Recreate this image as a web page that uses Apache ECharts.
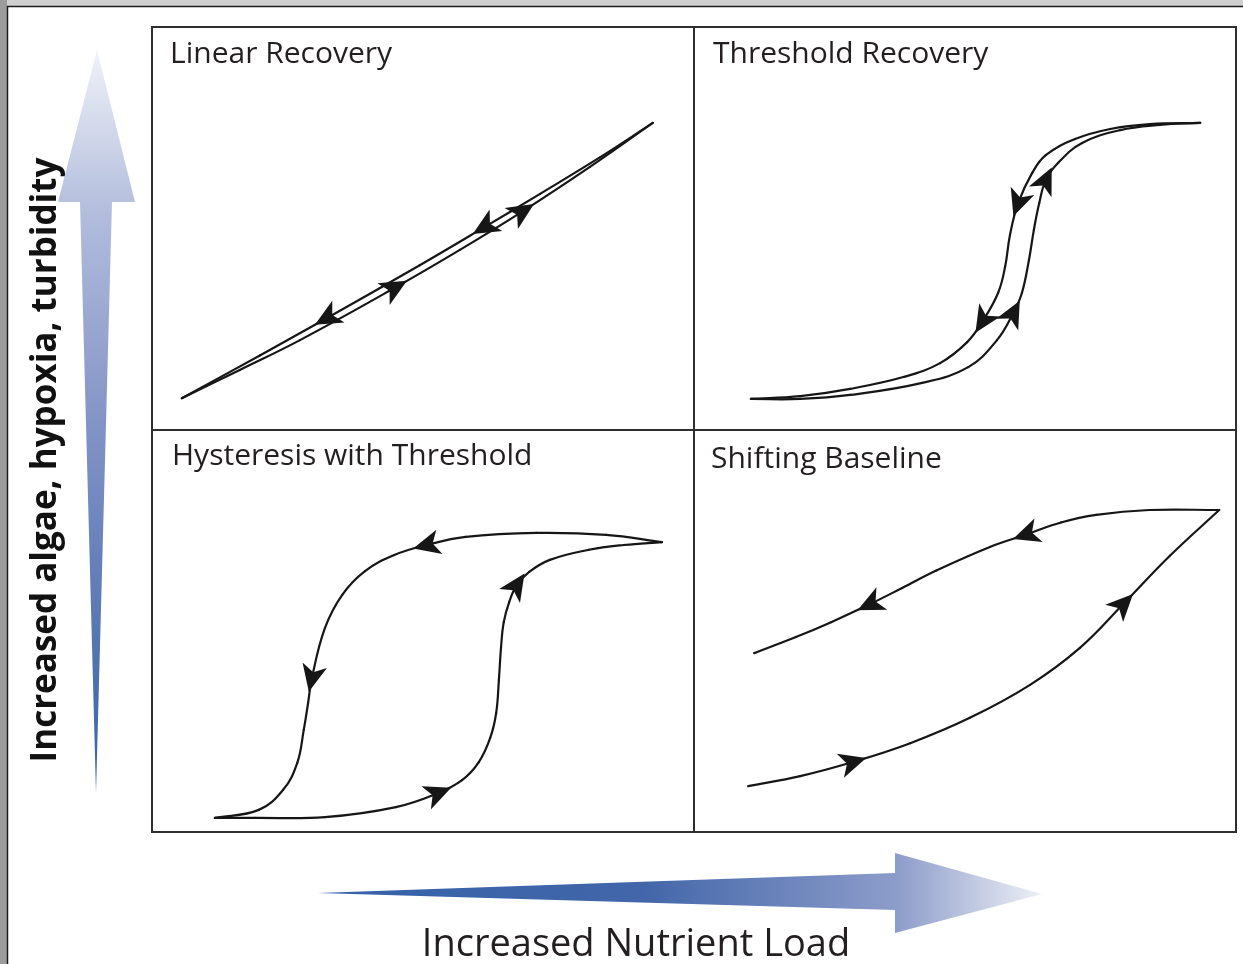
<!DOCTYPE html>
<html>
<head>
<meta charset="utf-8">
<title>Nutrient load recovery trajectories</title>
<script src="https://cdn.jsdelivr.net/npm/echarts@6/dist/echarts.min.js"></script>
<style>
  html, body { margin: 0; padding: 0; background: #fff; }
  #main { width: 1243px; height: 964px; }
</style>
</head>
<body>
<div id="main"></div>
<script>
var panelTitles = ['Linear Recovery', 'Threshold Recovery', 'Hysteresis with Threshold', 'Shifting Baseline'];
var yLabel = 'Increased algae, hypoxia, turbidity';
var xLabel = 'Increased Nutrient Load';

// curves: [nutrient load, response], both 0-100, listed in the direction of travel
// arrow lists are the indexes of the points that carry an arrowhead
var linearUp = [[5.5, 7.9], [16.2, 14.9], [27.3, 22.3], [44.8, 35.3], [56.8, 44.7], [68.3, 54.2], [80.8, 65.3], [92.4, 76.2]];
var linearUpArrows = [3, 5];
var linearDown = [[92.4, 76.2], [82.7, 67.7], [71.6, 58.6], [61.4, 50.4], [49.4, 40.9], [32.3, 27.8], [19.9, 18.5], [5.5, 7.9]];
var linearDownArrows = [3, 5];

var thresholdUp = [[10.5, 7.7], [19.6, 7.7], [28.8, 8.7], [42.1, 11.7], [50.6, 15.6], [55.9, 22.3], [58.9, 29.0], [60.5, 34.0],
  [61.8, 42.2], [62.7, 49.6], [63.7, 56.3], [64.9, 62.0], [67.2, 66.3], [71.6, 71.2], [78.6, 74.4], [86.0, 75.7], [93.4, 76.2]];
var thresholdUpArrows = [6, 11];
var thresholdDown = [[93.4, 76.2], [84.1, 75.9], [76.8, 74.7], [70.3, 72.2], [64.9, 68.2], [62.4, 63.8], [59.8, 56.3], [58.3, 48.4],
  [57.4, 40.5], [56.1, 34.0], [53.3, 27.1], [50.4, 21.8], [45.4, 16.6], [38.8, 13.2], [28.8, 10.2], [19.6, 8.4], [10.5, 7.7]];
var thresholdDownArrows = [6, 10];

var hysteresisUp = [[11.6, 3.5], [19.0, 3.5], [31.9, 3.7], [45.0, 6.2], [52.8, 9.7], [57.2, 12.9], [60.3, 17.4], [62.4, 23.4],
  [63.5, 29.6], [64.0, 37.8], [64.4, 46.0], [64.9, 52.2], [65.9, 57.2], [67.3, 61.4], [69.6, 64.7], [73.4, 67.7], [80.6, 70.2],
  [87.1, 71.4], [94.1, 72.1]];
var hysteresisUpArrows = [4, 13];
var hysteresisDown = [[94.1, 72.1], [83.8, 73.9], [70.9, 74.4], [57.9, 73.4], [50.7, 71.4], [44.7, 68.9], [39.3, 64.9], [35.1, 59.0],
  [31.9, 50.7], [29.5, 38.3], [28.8, 32.1], [28.0, 25.4], [26.8, 17.2], [24.2, 10.5], [19.7, 5.5], [11.6, 3.5]];
var hysteresisDownArrows = [4, 9];

var baselineUp = [[10.0, 11.4], [19.6, 13.9], [29.3, 17.4], [39.9, 22.1], [50.9, 28.4], [62.0, 36.6], [71.2, 45.8], [79.2, 56.7],
  [87.8, 68.7], [96.9, 80.1]];
var baselineUpArrows = [2, 7];
var baselineDown = [[96.9, 80.1], [84.0, 80.1], [74.2, 78.9], [67.7, 77.0], [61.3, 74.0], [54.6, 70.9], [44.8, 65.1], [38.4, 60.7],
  [32.5, 56.7], [25.3, 52.2], [18.8, 48.5], [11.1, 44.5]];
var baselineDownArrows = [4, 8];

var panels = [
  { curves: [[linearUp, linearUpArrows], [linearDown, linearDownArrows]] },
  { curves: [[thresholdUp, thresholdUpArrows], [thresholdDown, thresholdDownArrows]] },
  { curves: [[hysteresisUp, hysteresisUpArrows], [hysteresisDown, hysteresisDownArrows]] },
  { curves: [[baselineUp, baselineUpArrows], [baselineDown, baselineDownArrows]] }
];

var boxes = [
  { left: 152, top: 27, width: 542, height: 403 },
  { left: 694, top: 27, width: 542, height: 403 },
  { left: 152, top: 430, width: 542, height: 402 },
  { left: 694, top: 430, width: 542, height: 402 }
];
var titlePos = [[170, 39], [713, 39], [172, 441], [711, 444]];

var ink = '#161616';
var font = 'Open Sans';
var tension = 0.4;

// bezier handle at cur, pointing towards next, tangent parallel to next - prev
function handle(prev, cur, next) {
  var a = Math.hypot(cur[0] - prev[0], cur[1] - prev[1]);
  var b = Math.hypot(next[0] - cur[0], next[1] - cur[1]);
  var r = b / (a + b) * tension;
  return [cur[0] + (next[0] - prev[0]) * r, cur[1] + (next[1] - prev[1]) * r];
}

// each point draws the smooth span to the following point
function curveSeries(pts, gi) {
  var n = pts.length;
  return {
    type: 'custom', xAxisIndex: gi, yAxisIndex: gi, data: pts, silent: true, clip: false, z: 3,
    renderItem: function (params, api) {
      var i = params.dataIndex;
      if (i >= n - 1) return null;
      var p0 = api.coord(pts[Math.max(i - 1, 0)]);
      var p1 = api.coord([api.value(0), api.value(1)]);
      var p2 = api.coord(pts[i + 1]);
      var p3 = api.coord(pts[Math.min(i + 2, n - 1)]);
      var c1 = handle(p0, p1, p2);
      var c2 = handle(p3, p2, p1);
      return {
        type: 'bezierCurve',
        shape: { x1: p1[0], y1: p1[1], cpx1: c1[0], cpy1: c1[1], cpx2: c2[0], cpy2: c2[1], x2: p2[0], y2: p2[1] },
        style: { stroke: ink, lineWidth: 2.2, fill: null, lineCap: 'round' }
      };
    }
  };
}

// arrowhead drawn at a curve point, pointing from the previous point to the next one
function drawArrow(params, api) {
  var c = api.coord([api.value(0), api.value(1)]);
  var a = api.coord([api.value(2), api.value(3)]);
  var b = api.coord([api.value(4), api.value(5)]);
  var ang = Math.atan2(b[1] - a[1], b[0] - a[0]);
  var cs = Math.cos(ang), sn = Math.sin(ang);
  var shape = [[14, 0], [-13, -12.5], [-6, 0], [-13, 12.5]];
  var pts = shape.map(function (p) {
    return [c[0] + p[0] * cs - p[1] * sn, c[1] + p[0] * sn + p[1] * cs];
  });
  return { type: 'polygon', shape: { points: pts }, style: { fill: ink } };
}

var grids = [], xAxes = [], yAxes = [], series = [], titles = [];
boxes.forEach(function (b, i) {
  grids.push({ left: b.left, top: b.top, width: b.width, height: b.height, show: true,
    borderColor: '#2e2e2e', borderWidth: 2, backgroundColor: 'transparent' });
  xAxes.push({ type: 'value', gridIndex: i, min: 0, max: 100, show: false });
  yAxes.push({ type: 'value', gridIndex: i, min: 0, max: 100, show: false });
  titles.push({ text: panelTitles[i], left: titlePos[i][0], top: titlePos[i][1], padding: 0,
    textStyle: { fontFamily: font, fontSize: 30, fontWeight: 'normal', color: '#231f20' } });
  panels[i].curves.forEach(function (cv) {
    var pts = cv[0];
    series.push(curveSeries(pts, i));
    var arrows = cv[1].map(function (k) {
      return [pts[k][0], pts[k][1], pts[k - 1][0], pts[k - 1][1], pts[k + 1][0], pts[k + 1][1]];
    });
    series.push({ type: 'custom', xAxisIndex: i, yAxisIndex: i, data: arrows, renderItem: drawArrow,
      silent: true, clip: false, z: 5 });
  });
});

var chart = echarts.init(document.getElementById('main'));
chart.setOption({
  animation: false,
  backgroundColor: '#fff',
  title: titles,
  grid: grids,
  xAxis: xAxes,
  yAxis: yAxes,
  series: series,
  graphic: [
    { type: 'rect', shape: { x: 0, y: 0, width: 1243, height: 6 }, style: { fill: '#cfcfcf' }, silent: true },
    { type: 'rect', shape: { x: 0, y: 0, width: 7, height: 964 }, style: { fill: '#9c9c9c' }, silent: true },
    { type: 'polyline', shape: { points: [[7.5, 964], [7.5, 6.5], [1243, 6.5]] },
      style: { stroke: '#1c1c1c', lineWidth: 1.5, fill: null }, silent: true },
    {
      type: 'polygon', silent: true,
      shape: { points: [[97, 50], [135, 202], [112, 202], [96, 793], [80, 202], [58, 202]] },
      style: { fill: new echarts.graphic.LinearGradient(0, 0, 0, 1, [
        { offset: 0, color: '#f0f2f8' }, { offset: 0.22, color: '#b2bddc' },
        { offset: 0.5, color: '#8394c6' }, { offset: 0.8, color: '#5475b2' }, { offset: 1, color: '#3562a8' }]) }
    },
    {
      type: 'polygon', silent: true,
      shape: { points: [[318, 893], [895, 873], [895, 853], [1042, 894], [895, 933], [895, 910]] },
      style: { fill: new echarts.graphic.LinearGradient(0, 0, 1, 0, [
        { offset: 0, color: '#3562a8' }, { offset: 0.45, color: '#4266a9' },
        { offset: 0.8, color: '#8d9dca' }, { offset: 1, color: '#eef0f7' }]) }
    },
    { type: 'text', x: 46, y: 460, rotation: Math.PI / 2, silent: true,
      style: { text: yLabel, fontFamily: font, fontSize: 35, fontWeight: 'bold', fill: '#111',
        align: 'center', verticalAlign: 'middle' } },
    { type: 'text', x: 636, y: 945, silent: true,
      style: { text: xLabel, fontFamily: font, fontSize: 38, fill: '#231f20',
        align: 'center', verticalAlign: 'middle' } }
  ]
});
</script>
</body>
</html>
